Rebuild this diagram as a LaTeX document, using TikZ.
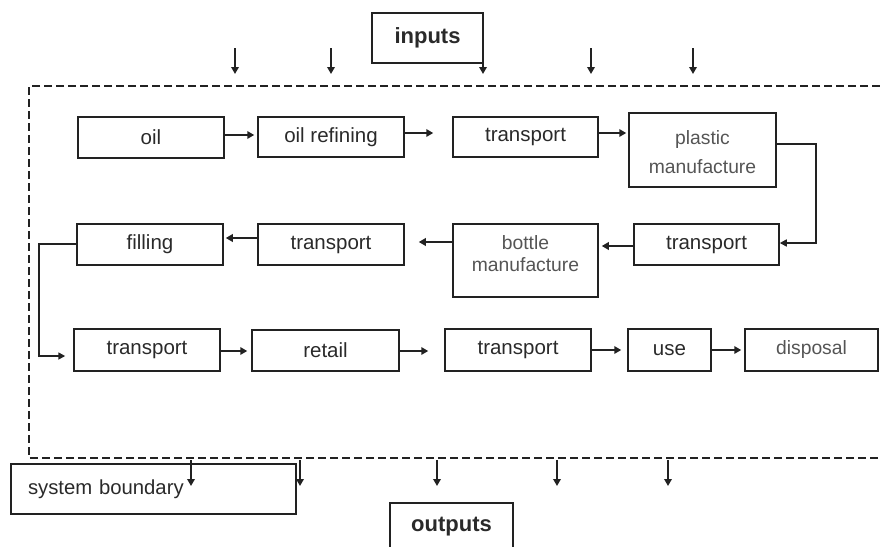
\documentclass[tikz,border=0pt]{standalone}
\usepackage{fontspec}
\setmainfont{Liberation Sans}
\usetikzlibrary{arrows.meta}
\definecolor{ink}{HTML}{222222}
\definecolor{txt}{HTML}{2A2A2A}
\definecolor{gtxt}{HTML}{555555}
\begin{document}
\begin{tikzpicture}[x=1pt,y=-1pt,
  box/.style={draw=ink,line width=1.5pt,inner sep=0pt,minimum width=146pt,minimum height=41pt,
    text=txt,font=\fontsize{20.5}{24}\selectfont,align=center},
  gbox/.style={box,text=gtxt,font=\fontsize{19.3}{22}\selectfont},
  arr/.style={draw=ink,line width=2.4pt,-{Triangle[length=7pt,width=7.5pt]}},
  thin/.style={draw=ink,line width=1.6pt,-{Triangle[length=7pt,width=7pt]}},
  bound/.style={draw=ink,line width=1.5pt,dash pattern=on 8pt off 4pt}]
\useasboundingbox (0,0) rectangle (880,546);
% system boundary
\draw[bound] (880,86) -- (29,86) -- (29,458) -- (880,458);
% row 1
\node[box] (oil) at (151,137.5) {oil};
\node[box,minimum height=40pt] (oilref) at (331,137) {oil refining};
\node[box,minimum width=145pt,minimum height=40pt] (tr1) at (525.5,137) {transport};
\node[gbox,minimum width=147pt,minimum height=74pt,font=\fontsize{19.3}{28.5}\selectfont] (plastic) at (702.5,150) {\rule{0pt}{18pt}plastic\\manufacture};
% row 2
\node[box,minimum width=145pt] (tr2) at (706.5,244.5) {transport};
\node[gbox,minimum width=145pt,minimum height=73pt] (bottle) at (525.5,260.5) {bottle\\manufacture\rule[-13pt]{0pt}{1pt}};
\node[box] (tr3) at (331,244.5) {transport};
\node[box] (filling) at (150,244.5) {filling};
% row 3
\node[box,minimum height=42pt] (tr4) at (147,350) {transport};
\node[box,minimum width=147pt] (retail) at (325.5,350.5) {retail};
\node[box,minimum height=42pt] (tr5) at (518,350) {transport};
\node[box,minimum width=83pt,minimum height=42pt] (use) at (669.5,350) {use};
\node[gbox,minimum width=133pt,minimum height=42pt] (disp) at (811.5,350) {disposal};
% labels
\node[box,minimum width=111pt,minimum height=50pt,font=\bfseries\fontsize{22}{26}\selectfont] (inputs) at (427.5,38) {inputs};
\node[box,minimum width=123pt,minimum height=48pt,font=\bfseries\fontsize{22}{26}\selectfont] (outputs) at (451.5,527) {outputs};
\node[box,minimum width=285pt,minimum height=50pt,text width=251pt,inner xsep=17pt,align=left,
  font=\fontsize{20.3}{23}\selectfont] (sysb) at (153.5,489) {system boundary\vphantom{p}};
% flow arrows
\draw[arr,shorten >=3pt] ([yshift=2.5pt]oil.east) -- ([yshift=2.5pt]oil.east -| oilref.west);
\draw[arr,shorten >=19pt] ([yshift=4pt]oilref.east) -- ([yshift=4pt]oilref.east -| tr1.west);
\draw[arr,shorten >=2pt] ([yshift=4pt]tr1.east) -- ([yshift=4pt]tr1.east -| plastic.west);
\coordinate (k1) at (816,243);
\draw[thin] ([yshift=6pt]plastic.east) -| (k1) -- ([yshift=1.5pt]tr2.east);
\draw[arr,shorten >=3pt] ([yshift=-1.5pt]tr2.west) -- ([yshift=-1.5pt]tr2.west -| bottle.east);
\draw[arr,shorten >=14pt] ([yshift=18.5pt]bottle.west) -- ([yshift=18.5pt]bottle.west -| tr3.east);
\draw[arr,shorten >=2pt] ([yshift=6.5pt]tr3.west) -- ([yshift=6.5pt]tr3.west -| filling.east);
\coordinate (k2) at (39,356);
\draw[thin,shorten >=8pt] ([yshift=0.5pt]filling.west) -| (k2) -- ([yshift=-6pt]tr4.west);
\draw[arr,shorten >=4pt] ([yshift=-1pt]tr4.east) -- ([yshift=-1pt]tr4.east -| retail.west);
\draw[arr,shorten >=16pt] ([yshift=-0.5pt]retail.east) -- ([yshift=-0.5pt]retail.east -| tr5.west);
\draw[arr,shorten >=6pt] (tr5.east) -- (use.west);
\draw[arr,shorten >=3pt] (use.east) -- (disp.west);
% input and output arrows
\foreach \x [count=\i] in {235,331,483,591,693} {
  \coordinate (in\i s) at (\x,48);
  \coordinate (in\i e) at (\x,74);
  \draw[arr] (in\i s) -- (in\i e);
}
\foreach \x [count=\i] in {191,300,437,557,668} {
  \coordinate (out\i s) at (\x,460);
  \coordinate (out\i e) at (\x,486);
  \draw[arr] (out\i s) -- (out\i e);
}
\end{tikzpicture}
\end{document}
